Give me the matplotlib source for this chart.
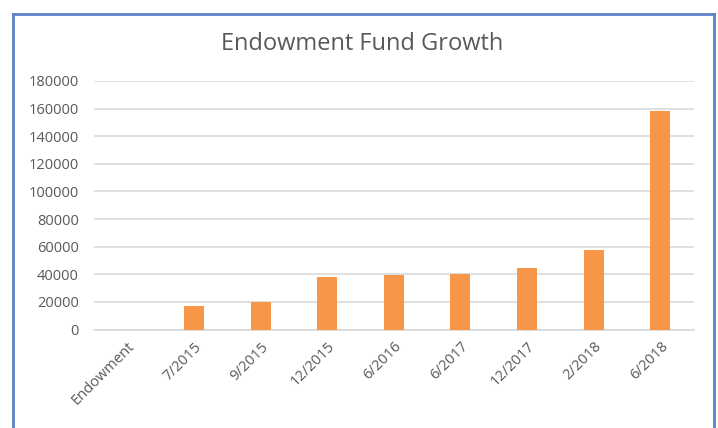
import matplotlib.pyplot as plt
from matplotlib.lines import Line2D

# Chart data
categories = ["Endowment", "7/2015", "9/2015", "12/2015", "6/2016",
              "6/2017", "12/2017", "2/2018", "6/2018"]
fund_values = [0, 17400, 20000, 38000, 39800, 40400, 44700, 57500, 158500]
y_ticks = list(range(0, 180001, 20000))

bar_color = "#F79646"
text_color = "#595959"
grid_color = "#D9D9D9"

fig = plt.figure(figsize=(7.18, 4.28), dpi=100)
ax = fig.add_axes([0.131, 0.230, 0.835, 0.581])

x = range(len(categories))
ax.bar(x, fund_values, width=0.3, color=bar_color, zorder=3)

ax.set_xlim(-0.5, len(categories) - 0.5)
ax.set_ylim(0, 180000)
ax.set_yticks(y_ticks)
ax.set_yticklabels([str(v) for v in y_ticks], fontsize=10.5, color=text_color,
                   family="Open Sans")
ax.set_xticks(list(x))
ax.set_xticklabels(categories, rotation=45, ha="right", rotation_mode="anchor",
                   fontsize=10.5, color=text_color, family="Open Sans")

ax.yaxis.grid(True, color=grid_color, linewidth=1.2, zorder=0)
ax.tick_params(axis="y", length=0, pad=11)
ax.tick_params(axis="x", length=0, pad=7)
for side in ["top", "right", "left"]:
    ax.spines[side].set_visible(False)
ax.spines["bottom"].set_color(grid_color)
ax.spines["bottom"].set_linewidth(1.2)

fig.text(0.505, 0.898, "Endowment Fund Growth", ha="center", va="center",
         fontsize=17, color=text_color, family="Open Sans")

# Blue frame around the chart (left, top, right)
frame_color = "#5B83C9"
fig.add_artist(Line2D([0.018, 0.018], [0.0, 0.968], transform=fig.transFigure,
                      color=frame_color, linewidth=2))
fig.add_artist(Line2D([0.018, 0.995], [0.968, 0.968], transform=fig.transFigure,
                      color=frame_color, linewidth=2))
fig.add_artist(Line2D([0.995, 0.995], [0.0, 0.968], transform=fig.transFigure,
                      color=frame_color, linewidth=2))

fig.savefig("out.png", dpi=100)
